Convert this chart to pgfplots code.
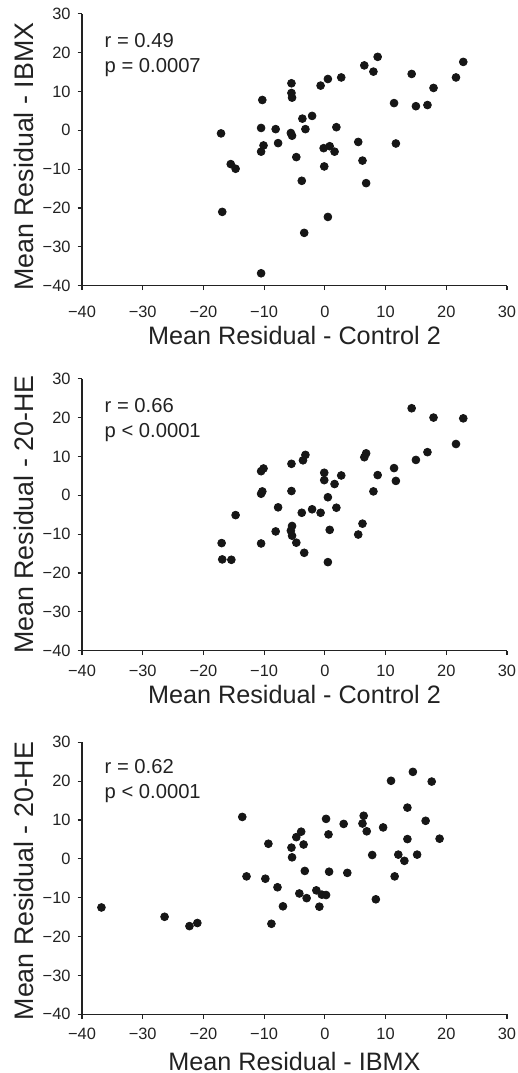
\documentclass[border=0pt]{standalone}
\usepackage{fontspec}
\setmainfont{Liberation Sans}
\usepackage{pgfplots}
\pgfplotsset{compat=1.18}
\definecolor{ink}{HTML}{161616}
\definecolor{axc}{HTML}{222222}
\definecolor{txt}{HTML}{222222}
\tikzset{ann/.style={anchor=base west, font=\fontsize{10.1}{12}\selectfont, text=txt, inner sep=0pt}}
\pgfplotsset{
  resid/.style={
    scale only axis, width=212.5pt, height=136pt,
    anchor=south west,
    xmin=-40, xmax=30, ymin=-40, ymax=30,
    axis lines=left,
    axis line style={-, draw=axc, line width=0.65pt},
    tick align=outside,
    tick style={draw=axc, line width=0.6pt},
    major tick length=2.2pt,
    xtick={-40,-30,...,30}, ytick={-40,-30,...,30},
    xticklabels={−40,−30,−20,−10,0,10,20,30},
    yticklabels={−40,−30,−20,−10,0,10,20,30},
    ticklabel style={font=\fontsize{8.2}{9.8}\selectfont, text=txt},
    xlabel style={font=\fontsize{12.6}{15}\selectfont, text=txt,
      at={(axis description cs:0.5,0)}, anchor=base},
    ylabel style={font=\fontsize{13.4}{16}\selectfont, text=txt,
      rotate=0, anchor=base},
    clip=false,
  },
  dots/.style={only marks, mark=*, mark size=1.95pt, color=ink, mark options={draw=ink, fill=ink}},
}
\begin{document}
\begin{tikzpicture}
\path[use as bounding box] (0,0) rectangle (259pt,-536.5pt);

% ---------- Plot 1 ----------
\begin{axis}[resid, at={(41pt,-142.85pt)},
  xlabel={Mean Residual - Control 2},
  ylabel={Mean Residual - IBMX},
  xticklabel style={yshift=-4.5pt},
  xlabel style={yshift=-29.5pt},
  ylabel style={at={(axis description cs:-0.1147,0.474)}},
]
\addplot[dots] coordinates {
(-17.1,-0.8) (-16.9,-21.0) (-15.5,-8.7) (-14.7,-9.9) (-10.3,7.8) (-10.5,0.6)
(-10.1,-3.9) (-10.5,-5.5) (-10.5,-36.8) (-8.1,0.3) (-7.7,-3.3) (-5.5,12.1)
(-5.5,9.6) (-5.4,8.4) (-5.6,-0.7) (-5.4,-1.4) (-4.7,-6.9) (-3.7,3.0)
(-3.8,-13.0) (-3.2,0.3) (-3.4,-26.4) (-2.1,3.7) (-0.7,11.5) (0.5,13.2)
(-0.2,-4.6) (0.8,-4.1) (1.6,-5.5) (-0.1,-9.3) (0.5,-22.3) (1.9,0.8)
(2.7,13.6) (5.5,-3.0) (6.2,-7.8) (6.8,-13.6) (6.5,16.7) (8.0,15.1)
(8.7,18.9) (11.4,7.0) (11.7,-3.4) (14.3,14.5) (15.0,6.2) (16.9,6.5)
(17.9,10.9) (21.6,13.6) (22.8,17.6)
};
\node[ann, yshift=-16.85pt] at (axis description cs:0.0525,1) {r = 0.49};
\node[ann, yshift=-29.35pt] at (axis description cs:0.0525,1) {p = 0.0007};
\end{axis}

% ---------- Plot 2 ----------
\begin{axis}[resid, at={(41pt,-325.35pt)},
  xlabel={Mean Residual - Control 2},
  ylabel={Mean Residual - 20-HE},
  xticklabel style={yshift=-1.3pt},
  xlabel style={yshift=-26.3pt},
  ylabel style={at={(axis description cs:-0.1147,0.5)}},
]
\addplot[dots] coordinates {
(-17.0,-12.3) (-16.9,-16.5) (-15.4,-16.6) (-14.7,-5.1) (-10.5,6.2) (-10.1,6.9)
(-10.3,1.0) (-10.5,0.4) (-10.5,-12.4) (-7.7,-3.1) (-8.1,-9.3) (-5.5,8.1)
(-5.5,1.1) (-5.4,-7.9) (-5.6,-9.1) (-5.4,-10.4) (-4.7,-12.2) (-3.4,-14.8)
(-3.8,-4.5) (-3.2,10.4) (-3.6,9.0) (-2.1,-3.6) (-0.7,-4.5) (-0.1,5.8)
(-0.1,3.9) (0.5,-0.5) (0.8,-8.9) (0.5,-17.2) (1.6,2.9) (1.9,-3.2)
(2.7,5.1) (5.5,-10.1) (6.2,-7.3) (6.5,9.8) (6.8,10.8) (8.0,1.0)
(8.7,5.2) (11.4,7.0) (11.7,3.7) (14.3,22.4) (15.0,9.1) (16.9,11.1)
(17.9,20.0) (21.6,13.2) (22.8,19.8)
};
\node[ann, yshift=-16.65pt] at (axis description cs:0.0525,1) {r = 0.66};
\node[ann, yshift=-29.15pt] at (axis description cs:0.0525,1) {p < 0.0001};
\end{axis}

% ---------- Plot 3 ----------
\begin{axis}[resid, at={(41pt,-507.15pt)},
  xlabel={Mean Residual - IBMX},
  ylabel={Mean Residual - 20-HE},
  xticklabel style={yshift=-1.3pt},
  xlabel style={yshift=-28pt},
  ylabel style={at={(axis description cs:-0.1147,0.49)}},
]
\addplot[dots] coordinates {
(-36.8,-12.5) (-26.4,-14.9) (-22.3,-17.3) (-21.0,-16.5) (-13.6,10.8) (-12.9,-4.5)
(-9.8,-5.1) (-9.3,3.9) (-8.8,-16.7) (-7.8,-7.3) (-6.9,-12.2) (-5.5,2.9)
(-5.4,0.4) (-4.7,5.6) (-3.9,7.0) (-3.5,3.7) (-3.3,-3.1) (-4.2,-8.9)
(-3.0,-10.1) (-1.4,-8.1) (-0.9,-12.3) (-0.5,-9.2) (0.2,-9.3) (0.2,10.3)
(0.6,6.3) (0.7,-3.3) (3.1,9.0) (3.7,-3.6) (6.2,9.1) (6.4,11.1)
(6.9,7.1) (7.8,1.0) (8.4,-10.4) (9.6,8.1) (10.9,20.1) (11.5,-4.5)
(12.1,1.1) (13.1,-0.5) (13.6,5.1) (13.6,13.2) (14.5,22.4) (15.2,1.1)
(16.6,9.8) (17.6,19.9) (18.9,5.2)
};
\node[ann, yshift=-15.8pt] at (axis description cs:0.0525,1) {r = 0.62};
\node[ann, yshift=-28.2pt] at (axis description cs:0.0525,1) {p < 0.0001};
\end{axis}
\end{tikzpicture}
\end{document}
